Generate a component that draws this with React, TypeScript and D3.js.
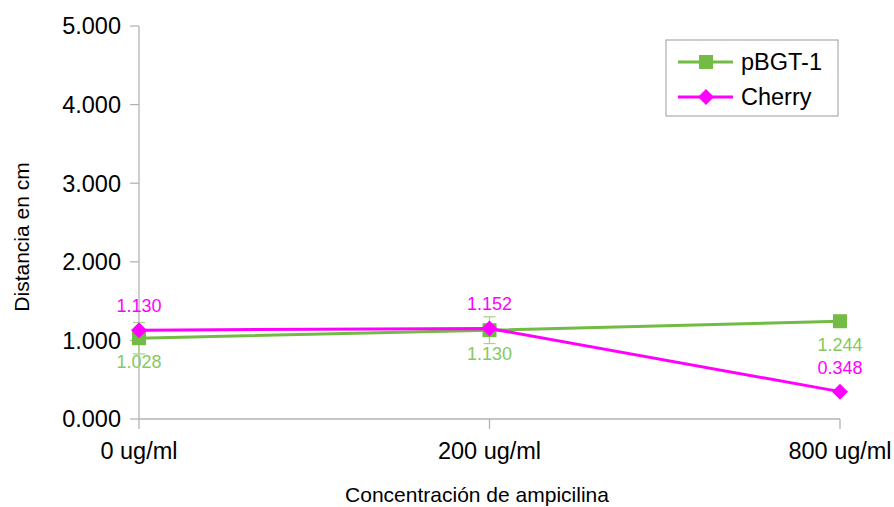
import React from "react";
import * as d3 from "d3";

const categories = ["0 ug/ml", "200 ug/ml", "800 ug/ml"];
const pbgt = [1.028, 1.13, 1.244];
const pbgtErr = [0.2, 0.17, 0.02];
const cherry = [1.13, 1.152, 0.348];
const yTicks = [0, 1, 2, 3, 4, 5];
const seriesNames = ["pBGT-1", "Cherry"];

const GREEN = "#72bb45";
const GREEN_LABEL = "#86c95e";
const PINK = "#ff00ff";
const AXIS = "#b3b3b3";
const FONT = "'Liberation Sans', Arial, sans-serif";

export default function App() {
  const W = 894, H = 507;
  const x = d3.scalePoint<string>().domain(categories).range([139, 840]);
  const y = d3.scaleLinear().domain([0, 5]).range([419, 26]);
  const fmt = (v: number) => v.toFixed(3);
  const line = d3.line<number>().x((_, i) => x(categories[i])!).y((d) => y(d));
  const diamond = (cx: number, cy: number, r: number) =>
    `M${cx},${cy - r}L${cx + r},${cy}L${cx},${cy + r}L${cx - r},${cy}Z`;

  return (
    <svg width={W} height={H} style={{ position: "absolute", left: 0, top: 0 }} fontFamily={FONT}>
      {/* axes */}
      <line x1={139} x2={139} y1={y(5)} y2={y(0)} stroke={AXIS} strokeWidth={1.3} />
      <line x1={139} x2={840} y1={y(0)} y2={y(0)} stroke={AXIS} strokeWidth={1.3} />
      {yTicks.map((t) => (
        <g key={t}>
          <line x1={130} x2={139} y1={y(t)} y2={y(t)} stroke={AXIS} strokeWidth={1.3} />
          <text x={121} y={y(t)} dy="0.36em" textAnchor="end" fontSize={23.5} fill="#000">
            {t.toFixed(3)}
          </text>
        </g>
      ))}
      {categories.map((c) => (
        <g key={c}>
          <line x1={x(c)} x2={x(c)} y1={y(0)} y2={y(0) + 10} stroke={AXIS} strokeWidth={1.3} />
          <text x={x(c)} y={459} textAnchor="middle" fontSize={23.5} fill="#000">{c}</text>
        </g>
      ))}
      <text x={477} y={502} textAnchor="middle" fontSize={21} fill="#000">Concentración de ampicilina</text>
      <text transform="translate(29,237) rotate(-90)" textAnchor="middle" fontSize={21} fill="#000">Distancia en cm</text>

      {/* error bars */}
      {pbgt.map((v, i) => {
        const cx = x(categories[i])!;
        return (
          <g key={"e" + i} stroke="#a9d38f" strokeWidth={1.3}>
            <line x1={cx} x2={cx} y1={y(v + pbgtErr[i])} y2={y(v - pbgtErr[i])} />
            <line x1={cx - 6} x2={cx + 6} y1={y(v + pbgtErr[i])} y2={y(v + pbgtErr[i])} />
            <line x1={cx - 6} x2={cx + 6} y1={y(v - pbgtErr[i])} y2={y(v - pbgtErr[i])} />
          </g>
        );
      })}

      {/* lines */}
      <path d={line(pbgt)!} fill="none" stroke={GREEN} strokeWidth={3} />
      {pbgt.map((v, i) => (
        <rect key={"g" + i} x={x(categories[i])! - 7} y={y(v) - 7} width={14} height={14} fill={GREEN} />
      ))}
      <path d={line(cherry)!} fill="none" stroke={PINK} strokeWidth={3} />
      {cherry.map((v, i) => (
        <path key={"p" + i} d={diamond(x(categories[i])!, y(v), 8)} fill={PINK} />
      ))}

      {/* labels */}
      {pbgt.map((v, i) => (
        <text key={"gl" + i} x={x(categories[i])!} y={y(v) + 30} textAnchor="middle" fontSize={18} fill={GREEN_LABEL}>
          {fmt(v)}
        </text>
      ))}
      {cherry.map((v, i) => (
        <text key={"pl" + i} x={x(categories[i])!} y={y(v) - 18} textAnchor="middle" fontSize={18} fill={PINK}>
          {fmt(v)}
        </text>
      ))}

      {/* legend */}
      <rect x={666} y={40} width={172} height={76} fill="#fff" stroke={AXIS} strokeWidth={1.3} />
      {seriesNames.map((n, i) => {
        const ly = 62 + i * 35;
        const col = i === 0 ? GREEN : PINK;
        return (
          <g key={n}>
            <line x1={678} x2={733} y1={ly} y2={ly} stroke={col} strokeWidth={3} />
            {i === 0 ? (
              <rect x={699} y={ly - 7} width={14} height={14} fill={col} />
            ) : (
              <path d={diamond(706, ly, 8)} fill={col} />
            )}
            <text x={741} y={ly} dy="0.36em" fontSize={23.5} fill="#000">{n}</text>
          </g>
        );
      })}
    </svg>
  );
}
